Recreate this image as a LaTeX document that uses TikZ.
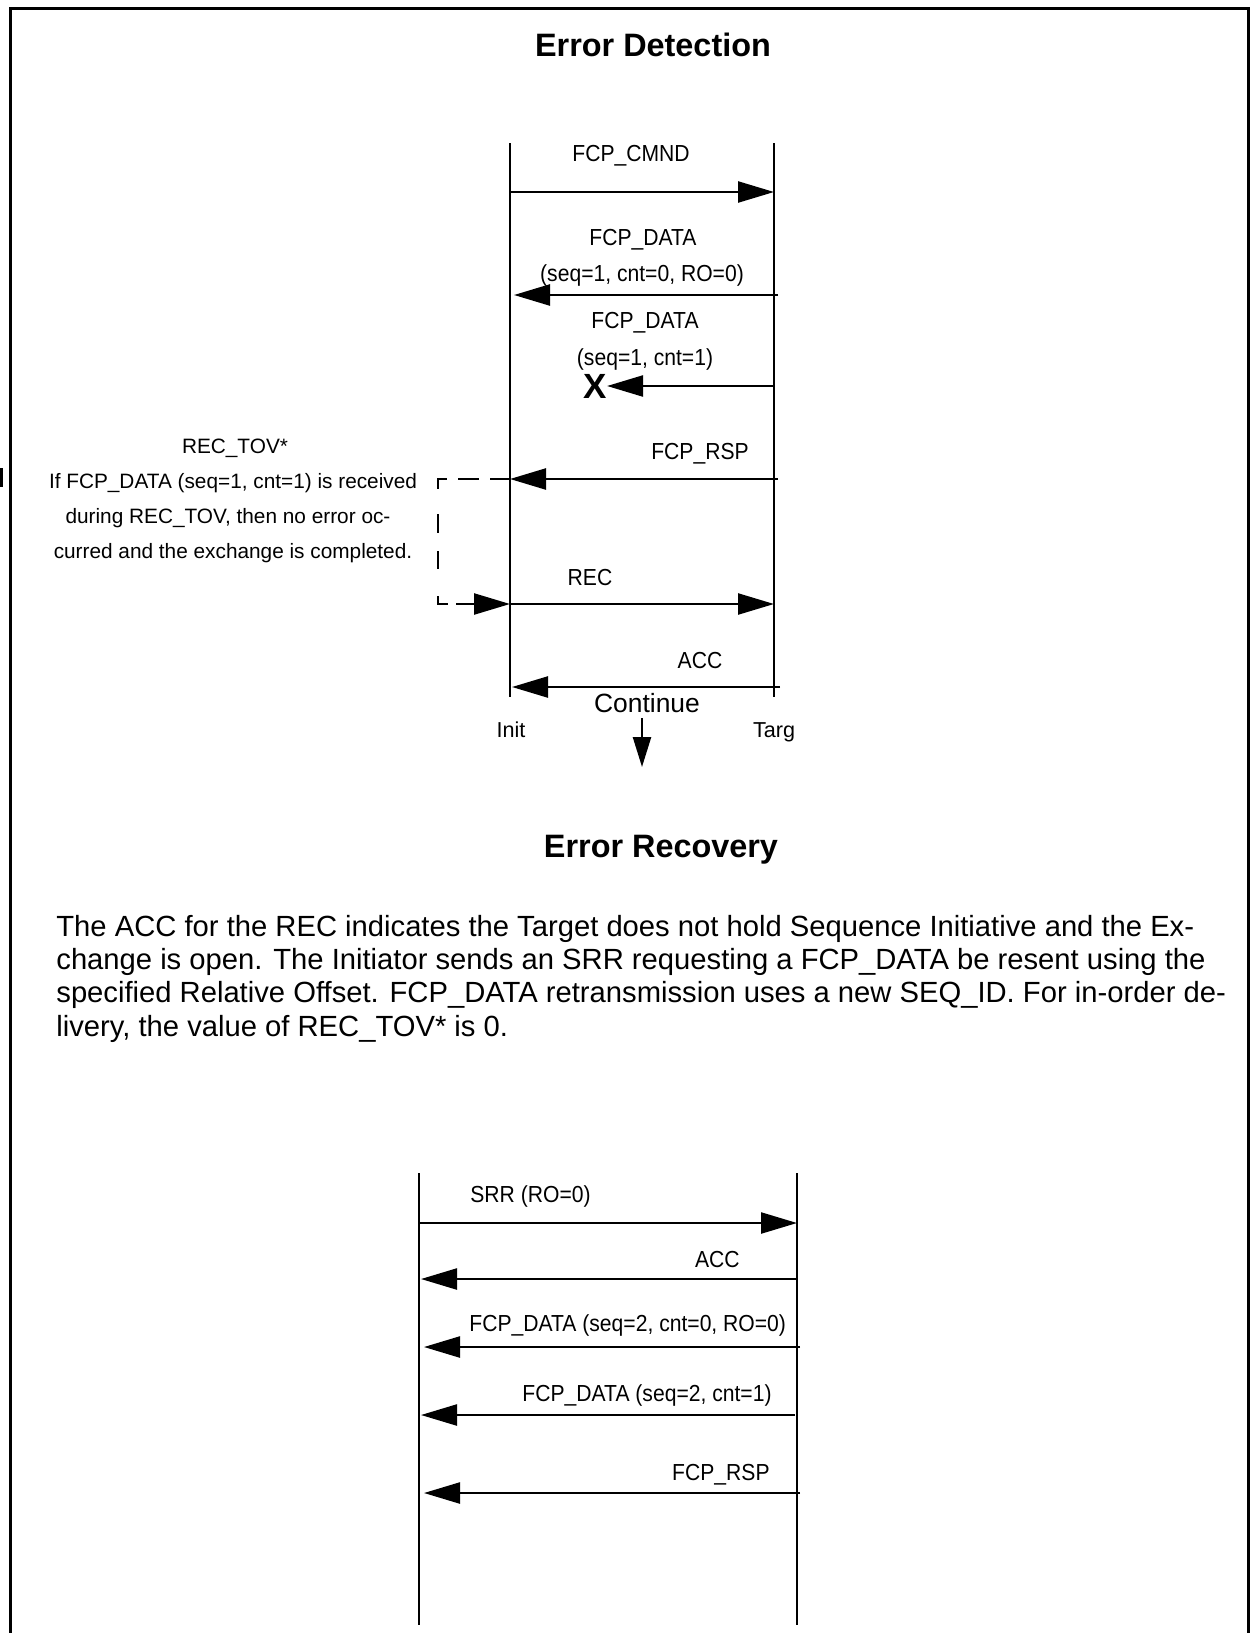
\documentclass[tikz,border=0pt]{standalone}
\usepackage{fontspec}
\setmainfont{Liberation Sans}
\newfontfamily\msgfont[FakeStretch=0.91]{Liberation Sans}
\usetikzlibrary{arrows.meta}
\begin{document}
\begin{tikzpicture}[x=0.5pt,y=-0.5pt,
  frame/.style={line width=1.5pt},
  lifeline/.style={line width=1.2pt},
  head/.style={-{Triangle[length=18pt,width=10.5pt]}},
  msg/.style={line width=1.2pt,head},
  timer/.style={line width=1.2pt,line cap=rect},
  lbl/.style={font=\msgfont\fontsize{11.6pt}{13.9pt}\selectfont,inner sep=0pt},
  endlbl/.style={font=\fontsize{10.8pt}{13pt}\selectfont,inner sep=0pt,anchor=base},
  note/.style={font=\fontsize{10.4pt}{12.5pt}\selectfont,inner sep=0pt,anchor=base},
  para/.style={font=\fontsize{14.6pt}{16pt}\selectfont,inner sep=0pt,anchor=base west},
  heading/.style={font=\bfseries\fontsize{16.2pt}{19pt}\selectfont,inner sep=0pt,anchor=base}]
\useasboundingbox (0,0) rectangle (1254,1633);

% page frame (open at the bottom) and change bar
\draw[frame] (10,1633) -- (10,8) -- (1248,8) -- (1248,1633);
\fill (0,468) rectangle (3,487);

% ---------------- Error Detection ----------------
\node[heading] (hdet) at (653,56) {Error Detection};

\coordinate (initTop) at (510,143);
\coordinate (initBot) at (510,697);
\coordinate (targTop) at (774,143);
\coordinate (targBot) at (774,697);
\draw[lifeline] (initTop) -- (initBot);
\draw[lifeline] (targTop) -- (targBot);

% FCP_CMND
\coordinate (cmndI) at (510,192);
\coordinate (cmndT) at (774,192);
\node[lbl,anchor=base] (cmnd) at (631,161) {FCP\_CMND};
\draw[msg] (cmndI) -- (cmndT);

% first FCP_DATA
\coordinate (dataT) at (778,295);
\coordinate (dataI) at (514,295);
\node[lbl,anchor=base] (data1a) at (643,245) {FCP\_DATA};
\node[lbl,anchor=base] (data1b) at (642,281) {(seq=1, cnt=0, RO=0)};
\draw[msg] (dataT) -- (dataI);

% second FCP_DATA, lost
\coordinate (lostT) at (774,386);
\node[lbl,anchor=base] (data2a) at (645,328) {FCP\_DATA};
\node[lbl,anchor=base] (data2b) at (645,365) {(seq=1, cnt=1)};
\node[font=\bfseries\fontsize{17.5pt}{20pt}\selectfont,inner sep=0pt] (lost) at (595,386) {X};
\draw[msg] (lostT) -- (lost.east);

% FCP_RSP
\coordinate (rspT) at (778,479);
\coordinate (rspI) at (510,479);
\node[lbl,anchor=base] (rsp) at (700,459) {FCP\_RSP};
\draw[msg] (rspT) -- (rspI);

% REC_TOV timer: dashed bracket from FCP_RSP down to REC
\coordinate (tovTop) at (438,479);
\coordinate (tovBot) at (438,604);
\coordinate (recI) at (510,604);
\coordinate (recT) at (774,604);
\draw[timer,dash pattern=on 4pt off 6.5pt on 9.5pt off 6.5pt on 8.5pt off 50pt] (tovTop) -- (rspI);
\draw[timer,dash pattern=on 4.5pt off 13.5pt on 8.5pt off 10pt on 8pt off 14.5pt on 4pt off 20pt] (tovTop) -- (tovBot);
\draw[timer,head,dash pattern=on 4.5pt off 5pt on 40pt] (tovBot) -- (recI);
\node[note] (tov1) at (235,453) {REC\_TOV*};
\node[note] (tov2) at (233,488) {If FCP\_DATA (seq=1, cnt=1) is received};
\node[note] (tov3) at (228,523) {during REC\_TOV, then no error oc-};
\node[note] (tov4) at (233,558) {curred and the exchange is completed.};

% REC
\node[lbl,anchor=base] (rec) at (590,585) {REC};
\draw[msg] (recI) -- (recT);

% ACC
\coordinate (accT) at (780,687);
\coordinate (accI) at (512,687);
\node[lbl,anchor=base] (acc) at (700,668) {ACC};
\draw[msg] (accT) -- (accI);

% end labels and continuation
\node[endlbl] (init) at (511,737) {Init};
\node[endlbl] (targ) at (774,737) {Targ};
\node[font=\fontsize{13.2pt}{15pt}\selectfont,inner sep=0pt,anchor=base] (cont) at (647,712) {Continue};
\coordinate (contA) at (642,718);
\coordinate (contB) at (642,767);
\draw[line width=1.2pt,-{Triangle[length=15pt,width=9pt]}] (contA) -- (contB);

% ---------------- Error Recovery ----------------
\node[heading] (hrec) at (661,857) {Error Recovery};

\node[para] (p1) at (56,936) {The ACC for the REC indicates the Target does not hold Sequence Initiative and the Ex-};
\node[para] (p2) at (56,969) {change is open. The Initiator sends an SRR requesting a FCP\_DATA be resent using the};
\node[para] (p3) at (56,1002) {specified Relative Offset. FCP\_DATA retransmission uses a new SEQ\_ID. For in-order de-};
\node[para] (p4) at (56,1036) {livery, the value of REC\_TOV* is 0.};

\coordinate (iTop) at (419,1173);
\coordinate (iBot) at (419,1625);
\coordinate (tTop) at (797,1173);
\coordinate (tBot) at (797,1625);
\draw[lifeline] (iTop) -- (iBot);
\draw[lifeline] (tTop) -- (tBot);

% SRR
\coordinate (srrI) at (419,1223);
\coordinate (srrT) at (797,1223);
\node[lbl,anchor=base west] (srr) at (470,1202) {SRR (RO=0)};
\draw[msg] (srrI) -- (srrT);

% ACC
\coordinate (acc2T) at (797,1279);
\coordinate (acc2I) at (421,1279);
\node[lbl,anchor=base east] (acc2) at (740,1267) {ACC};
\draw[msg] (acc2T) -- (acc2I);

% retransmitted FCP_DATA
\coordinate (rd1T) at (800,1347);
\coordinate (rd1I) at (424,1347);
\node[lbl,anchor=base west] (rd1) at (469,1331) {FCP\_DATA (seq=2, cnt=0, RO=0)};
\draw[msg] (rd1T) -- (rd1I);

\coordinate (rd2T) at (795,1415);
\coordinate (rd2I) at (421,1415);
\node[lbl,anchor=base east] (rd2) at (772,1401) {FCP\_DATA (seq=2, cnt=1)};
\draw[msg] (rd2T) -- (rd2I);

% FCP_RSP
\coordinate (rsp2T) at (800,1493);
\coordinate (rsp2I) at (424,1493);
\node[lbl,anchor=base east] (rsp2) at (770,1480) {FCP\_RSP};
\draw[msg] (rsp2T) -- (rsp2I);
\end{tikzpicture}
\end{document}
